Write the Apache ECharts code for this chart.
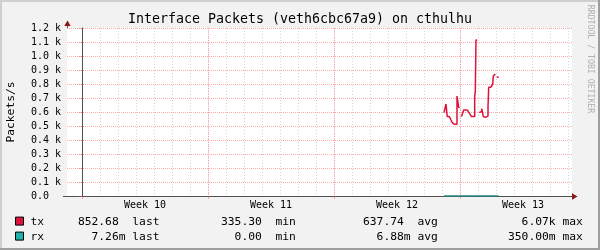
<!DOCTYPE html>
<html><head><meta charset="utf-8">
<script src="https://cdn.jsdelivr.net/npm/echarts@6/dist/echarts.min.js"></script>
<style>html,body{margin:0;padding:0;background:#f2f2f2}#c{width:600px;height:250px}</style>
</head><body><div id="c"></div>
<script>
// ---- data ----
const chartTitle = 'Interface Packets (veth6cbc67a9) on cthulhu';
const yAxisName = 'Packets/s';
const watermark = 'RRDTOOL / TOBI OETIKER';
// x in days, 0 = start (Monday) of Week 10
const xMin = -0.8333, xMax = 27.2222;
const dayTicks = [0,1,2,3,4,5,6,7,8,9,10,11,12,13,14,15,16,17,18,19,20,21,22,23,24,25,26,27];
const weekTicks = [0,7,14,21];
const weekLabelPos = [3.5,10.5,17.5,24.5];
const weekLabels = ['Week 10','Week 11','Week 12','Week 13'];
const yTickLabels = ['0.0  ','0.1 k','0.2 k','0.3 k','0.4 k','0.5 k','0.6 k','0.7 k','0.8 k','0.9 k','1.0 k','1.1 k','1.2 k'];
const seriesNames = ['tx','rx'];
const seriesColors = ['#DC143C','#20B2AA'];
const txData = [
 [20.111,595],[20.211,595],[20.222,657],[20.278,657],[20.289,567],[20.406,567],[20.417,560],[20.483,560],
 [20.5,543],[20.556,543],[20.572,524],[20.628,524],[20.639,512],[20.694,512],[20.706,524],[20.778,524],
 [20.789,512],[20.822,512],[20.833,714],[20.861,714],[20.928,633],
 [20.98,null],
 [21.083,567],[21.183,567],[21.206,614],[21.406,614],[21.417,602],[21.517,602],[21.528,590],[21.628,590],
 [21.639,567],[21.739,567],[21.817,714],[21.85,745],[21.889,1114],
 [21.95,null],
 [22.072,595],[22.128,605],[22.206,624],[22.278,633],[22.294,567],[22.333,562],[22.406,555],[22.444,562],
 [22.483,571],[22.556,638],[22.594,776],[22.706,781],[22.722,762],[22.778,762],[22.794,776],[22.817,800],
 [22.85,857],[22.961,871],
 [23.0,null],
 [23.039,848],[23.15,848]
];
const rxData = [[20.111,0.007],[20.6,0.006],[21.1,0.007],[21.9,0.35],[22.0,0.008],[22.7,0.006],[23.15,0.007]];
const statLabels = ['last','min','avg','max'];
const txStats = ['852.68 ','335.30 ','637.74 ','6.07k'];
const rxStats = ['7.26m','0.00 ','6.88m','350.00m'];

// ---- layout ----
const G = {left:67, top:28, width:505, height:168};
const mono = 'DejaVu Sans Mono';
const minorGrid = 'rgba(150,150,150,0.4)';
const majorGrid = 'rgba(255,70,70,0.45)';
const axisColor = '#505050';
const arrowColor = '#8a1515';

const chart = echarts.init(document.getElementById('c'), null, {renderer:'canvas'});

const statRight = [125.5, 268.6, 410.6, 555.6];
const labelLeft = [132.3, 275.4, 417.4, 562.4];
const rowY = [221.6, 236.6];
const legendGraphics = [];
[txStats, rxStats].forEach((stats, r) => {
  legendGraphics.push({type:'rect', shape:{x:15.5, y:rowY[r]-4.5, width:8, height:8},
    style:{fill:seriesColors[r], stroke:'#000', lineWidth:1}});
  legendGraphics.push({type:'text', x:30.4, y:rowY[r], style:{text:seriesNames[r], font:`11.3px "${mono}"`, fill:'#000', verticalAlign:'middle', align:'left'}});
  stats.forEach((s, i) => {
    legendGraphics.push({type:'text', x:statRight[i], y:rowY[r], style:{text:s, font:`11.3px "${mono}"`, fill:'#000', verticalAlign:'middle', align:'right'}});
    legendGraphics.push({type:'text', x:labelLeft[i], y:rowY[r], style:{text:statLabels[i], font:`11.3px "${mono}"`, fill:'#000', verticalAlign:'middle', align:'left'}});
  });
});

const option = {
  animation:false,
  backgroundColor:'#f2f2f2',
  grid:{left:G.left, top:G.top, width:G.width, height:G.height, show:true, backgroundColor:'#ffffff', borderWidth:0},
  xAxis:[
    {type:'value', min:xMin, max:xMax, position:'bottom',
     axisLine:{show:true, onZero:false, lineStyle:{color:axisColor, width:1}},
     axisTick:{show:false, customValues:dayTicks},
     axisLabel:{show:false},
     splitLine:{show:true, lineStyle:{color:minorGrid, type:[1,2], width:1}}},
    {type:'value', min:xMin, max:xMax, position:'bottom',
     axisLine:{show:false, onZero:false},
     axisTick:{show:true, customValues:weekTicks, length:3, lineStyle:{color:majorGrid}},
     axisLabel:{show:true, customValues:weekLabelPos, margin:4, color:'#000', fontFamily:mono, fontSize:10,
       formatter:(v)=>{const i = weekLabelPos.indexOf(v); return i>=0 ? weekLabels[i] : '';}},
     splitLine:{show:true, lineStyle:{color:majorGrid, type:[1,1], width:1}}}
  ],
  yAxis:{type:'value', min:0, max:1200, interval:100,
    axisLine:{show:true, lineStyle:{color:axisColor, width:1}},
    axisTick:{show:true, length:3, lineStyle:{color:majorGrid}},
    axisLabel:{margin:6, color:'#000', fontFamily:mono, fontSize:10,
      formatter:(v)=>yTickLabels[Math.round(v/100)]},
    splitLine:{show:true, lineStyle:{color:majorGrid, type:[1,1], width:1}}},
  series:[
    {name:seriesNames[0], type:'line', xAxisIndex:0, data:txData, showSymbol:false, connectNulls:false, step:'end',
     lineStyle:{color:seriesColors[0], width:1.5}, z:3},
    {name:seriesNames[1], type:'line', xAxisIndex:0, data:rxData, showSymbol:false, step:'end',
     lineStyle:{color:'#1f8a82', width:1.5}, z:2}
  ],
  graphic:[
    {type:'text', x:300, y:19.5, style:{text:chartTitle, font:`13.3px "${mono}"`, fill:'#000', align:'center', verticalAlign:'middle'}},
    {type:'text', x:11, y:112, rotation:Math.PI/2, style:{text:yAxisName, font:`11.3px "${mono}"`, fill:'#000', align:'center', verticalAlign:'middle'}},
    {type:'text', x:590, y:59, rotation:-Math.PI/2, style:{text:watermark, font:`8.2px "${mono}"`, fill:'#b0b0b0', align:'center', verticalAlign:'middle'}},
    // frame
    {type:'rect', shape:{x:0, y:0, width:600, height:2}, style:{fill:'#cfcfcf'}},
    {type:'rect', shape:{x:0, y:0, width:2, height:250}, style:{fill:'#cfcfcf'}},
    {type:'rect', shape:{x:0, y:248, width:600, height:2}, style:{fill:'#9e9e9e'}},
    {type:'rect', shape:{x:598, y:0, width:2, height:250}, style:{fill:'#9e9e9e'}},
    // arrows
    {type:'line', shape:{x1:G.left+0.5, y1:G.top, x2:G.left+0.5, y2:G.top-2}, style:{stroke:axisColor, lineWidth:1}},
    {type:'polygon', shape:{points:[[G.left-2.7,G.top-2],[G.left+3.7,G.top-2],[G.left+0.5,G.top-7.5]]}, style:{fill:arrowColor}},
    {type:'polygon', shape:{points:[[G.left+G.width,G.top+G.height-2.7],[G.left+G.width,G.top+G.height+3.7],[G.left+G.width+5.5,G.top+G.height+0.5]]}, style:{fill:arrowColor}},
    {type:'line', shape:{x1:G.left-4, y1:G.top+G.height+0.5, x2:G.left, y2:G.top+G.height+0.5}, style:{stroke:axisColor, lineWidth:1}}
  ].concat(legendGraphics)
};
chart.setOption(option);
</script></body></html>
